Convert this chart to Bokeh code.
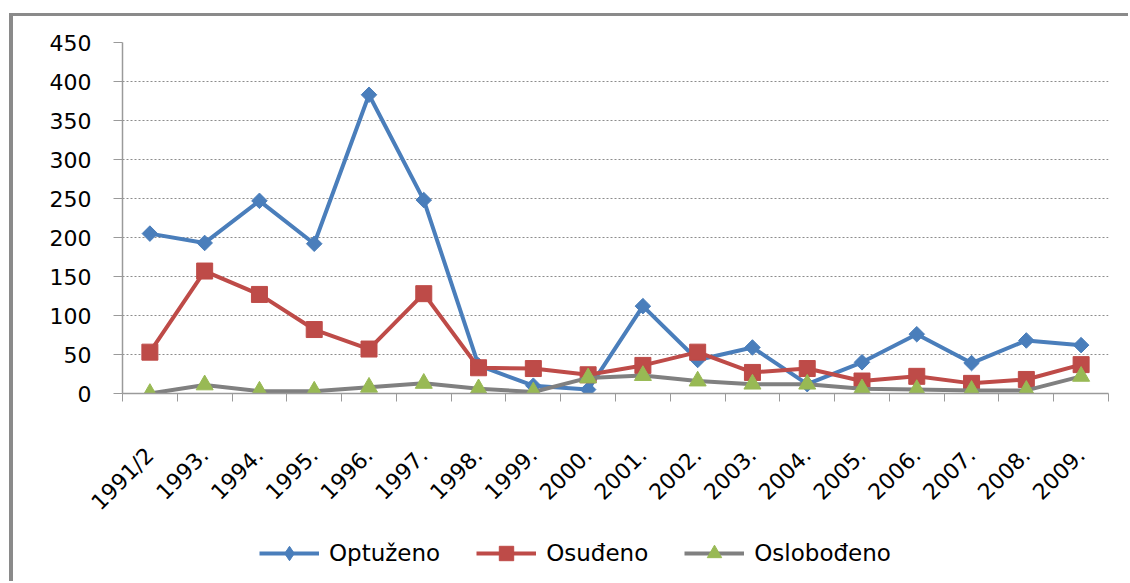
import math
from bokeh.plotting import figure
from bokeh.layouts import column
from bokeh.models import Range1d, FixedTicker, Legend, LegendItem
from bokeh.embed import file_html
from bokeh.resources import INLINE

categories = ["1991/2", "1993.", "1994.", "1995.", "1996.", "1997.", "1998.", "1999.", "2000.",
              "2001.", "2002.", "2003.", "2004.", "2005.", "2006.", "2007.", "2008.", "2009."]
optuzeno = [205, 193, 247, 192, 383, 248, 36, 10, 5, 112, 43, 59, 12, 40, 76, 39, 68, 62]
osudjeno = [53, 157, 127, 82, 57, 128, 33, 32, 24, 36, 53, 27, 32, 16, 22, 13, 18, 37]
oslobodjeno = [0, 11, 3, 3, 8, 13, 6, 2, 20, 23, 16, 12, 12, 6, 5, 4, 4, 22]
series_names = ["Optuženo", "Osuđeno", "Oslobođeno"]
y_ticks = [0, 50, 100, 150, 200, 250, 300, 350, 400, 450]

xs = list(range(len(categories)))
FONT = "DejaVu Sans"
blue, red, gray, green = "#4a7ebb", "#be4b48", "#808080", "#98b954"
# (values, line colour, marker colour, marker, size, angle, legend marker)
series = [(optuzeno, blue, blue, "square", 11, math.pi / 4, "diamond"),
          (osudjeno, red, red, "square", 16, 0, "square"),
          (oslobodjeno, gray, green, "triangle", 17, 0, "triangle")]

p = figure(width=1115, height=515, output_backend="svg", toolbar_location=None,
           x_range=Range1d(-0.5, len(categories) - 0.5), y_range=Range1d(0, 450),
           min_border_left=109, min_border_top=26, min_border_right=20, min_border_bottom=138)
p.outline_line_color = None
p.background_fill_color = "white"
p.border_fill_color = "white"

# x axis: labels at category centres, tick marks at category boundaries
p.xaxis.ticker = FixedTicker(ticks=xs, minor_ticks=[i - 0.5 for i in range(len(categories) + 1)])
p.xaxis.major_label_overrides = {i: c for i, c in enumerate(categories)}
p.xaxis.major_label_orientation = 0.785398
p.xaxis.major_tick_line_color = None
p.xaxis.major_tick_out = 0
p.xaxis.major_tick_in = 0
p.xaxis.minor_tick_out = 8
p.xaxis.minor_tick_in = 0
p.xaxis.minor_tick_line_color = "#9a9a9a"
p.xaxis.axis_line_color = "#9a9a9a"
p.xaxis.axis_line_width = 1.5
p.xaxis.major_label_text_font = FONT
p.xaxis.major_label_text_font_size = "22px"
p.xaxis.major_label_text_color = "black"
p.xaxis.major_label_standoff = 50

# y axis
p.yaxis.ticker = FixedTicker(ticks=y_ticks)
p.yaxis.minor_tick_line_color = None
p.yaxis.major_tick_out = 9
p.yaxis.major_tick_in = 0
p.yaxis.major_tick_line_color = "#9a9a9a"
p.yaxis.axis_line_color = "#9a9a9a"
p.yaxis.axis_line_width = 1.5
p.yaxis.major_label_text_font = FONT
p.yaxis.major_label_text_font_size = "22px"
p.yaxis.major_label_text_color = "black"
p.yaxis.major_label_standoff = 22

p.xgrid.grid_line_color = None
p.ygrid.ticker = FixedTicker(ticks=y_ticks)
p.ygrid.grid_line_color = "#8c8c8c"
p.ygrid.grid_line_dash = "2 2"
p.ygrid.grid_line_width = 1

for vals, lc, mc, mk, sz, ang, lmk in series:
    p.line(xs, vals, line_color=lc, line_width=4)
    p.scatter(xs, vals, marker=mk, size=sz, angle=ang, fill_color=mc, line_color=mc)

# legend strip below the chart (same series, plotted outside its visible range)
q = figure(width=1115, height=50, output_backend="svg", toolbar_location=None,
           x_range=Range1d(-0.5, len(categories) - 0.5), y_range=Range1d(1000, 1001),
           x_axis_location=None, y_axis_location=None,
           min_border_left=0, min_border_right=0, min_border_top=0, min_border_bottom=0)
q.outline_line_color = None
q.grid.grid_line_color = None
q.border_fill_color = "white"

items = []
for name, (vals, lc, mc, mk, sz, ang, lmk) in zip(series_names, series):
    rl = q.line(xs, vals, line_color=lc, line_width=4)
    rm = q.scatter(xs, vals, marker=lmk, size=sz, fill_color=mc, line_color=mc)
    items.append(LegendItem(label=name, renderers=[rl, rm]))

legend = Legend(items=items, orientation="horizontal", location=(137, 10),
                glyph_width=60, glyph_height=36, label_standoff=10, spacing=36,
                padding=0, margin=0, border_line_color=None, background_fill_alpha=0,
                label_text_font=FONT, label_text_font_size="23px", label_text_color="black")
q.add_layout(legend, "center")

layout = column(p, q, spacing=0,
                styles={"border-left": "4px solid #8a8a8a", "border-top": "3px solid #8a8a8a",
                        "margin-left": "9px", "margin-top": "13px"})

open("out.html", "w").write(file_html(layout, INLINE))
